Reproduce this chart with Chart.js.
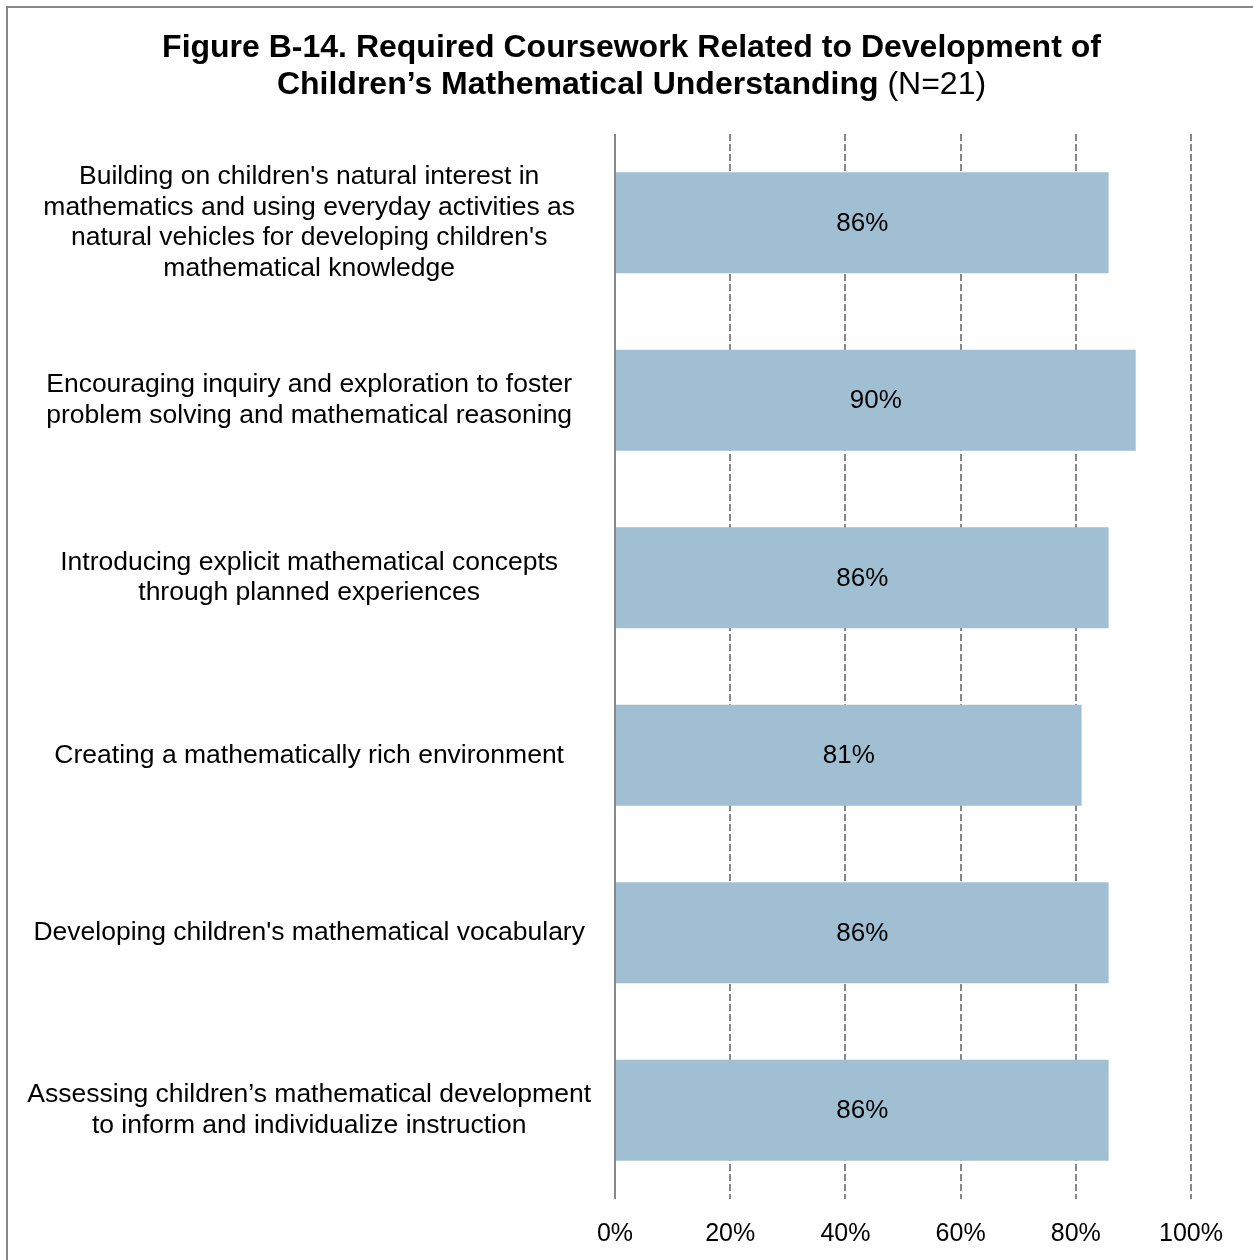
<!DOCTYPE html>
<html>
<head>
<meta charset="utf-8">
<script src="https://cdn.jsdelivr.net/npm/chart.js@4.4.1/dist/chart.umd.min.js"></script>
<style>
  body { margin: 0; background: #fff; }
  #frame { position: absolute; left: 6px; top: 6px; width: 1300px; height: 1300px; border: 2px solid #888; }
  #title { position: absolute; left: 8px; width: 1247px; top: 28px; text-align: center;
           font-family: "Liberation Sans", Arial, sans-serif; font-size: 32px; line-height: 37px; color: #000; }
  #title b { font-weight: bold; }
  #chart { position: absolute; left: 0; top: 0; }
</style>
</head>
<body>
<div id="frame"></div>
<canvas id="chart" width="1253" height="1260"></canvas>
<div id="title"><b>Figure B-14. Required Coursework Related to Development of</b><br><b>Children’s Mathematical Understanding</b> (N=21)</div>
<script>
// categories (multi-line labels)
const categories = [
  ["Building on children's natural interest in", "mathematics and using everyday activities as", "natural vehicles for developing children's", "mathematical knowledge"],
  ["Encouraging inquiry and exploration to foster", "problem solving and mathematical reasoning"],
  ["Introducing explicit mathematical concepts", "through planned experiences"],
  ["Creating a mathematically rich environment"],
  ["Developing children's mathematical vocabulary"],
  ["Assessing children’s mathematical development", "to inform and individualize instruction"]
];
// percent of programs (N=21)
const percents = [85.7, 90.4, 85.7, 81.0, 85.7, 85.7];
const xTicks = [0, 20, 40, 60, 80, 100];

const FONT = "'Liberation Sans', Arial, sans-serif";

// draws the value label in the middle of each bar
const barLabels = {
  id: 'barLabels',
  afterDatasetsDraw(chart) {
    const ctx = chart.ctx;
    const meta = chart.getDatasetMeta(0);
    ctx.save();
    ctx.font = '26px ' + FONT;
    ctx.fillStyle = '#000';
    ctx.textAlign = 'center';
    ctx.textBaseline = 'middle';
    meta.data.forEach((bar, i) => {
      const { x, y, base } = bar.getProps(['x', 'y', 'base'], true);
      ctx.fillText(Math.round(percents[i]) + '%', (x + base) / 2, y + 1);
    });
    ctx.restore();
  }
};

new Chart(document.getElementById('chart').getContext('2d'), {
  type: 'bar',
  data: {
    labels: categories,
    datasets: [{
      data: percents,
      backgroundColor: '#A0BFD3',
      borderWidth: 0,
      categoryPercentage: 1,
      barPercentage: 0.57
    }]
  },
  options: {
    indexAxis: 'y',
    responsive: false,
    animation: false,
    layout: { padding: { top: 134, right: 62, bottom: 11, left: 0 } },
    scales: {
      x: {
        min: 0,
        max: 100,
        afterBuildTicks: (scale) => { scale.ticks = xTicks.map(v => ({ value: v })); },
        afterFit: (scale) => { scale.height = 50; },
        ticks: {
          padding: 20,
          color: '#000',
          font: { family: FONT, size: 25 },
          callback: (v) => v + '%'
        },
        grid: {
          drawTicks: false,
          color: '#888',
          lineWidth: 2
        },
        border: {
          display: false,
          dash: (c) => c.index === 0 ? [] : [7, 3]
        }
      },
      y: {
        afterFit: (scale) => {
          scale.width = 615;
          scale.paddingTop = 0;
          scale.paddingBottom = 0;
        },
        ticks: {
          padding: 24,
          crossAlign: 'center',
          color: '#000',
          font: { family: FONT, size: 26.5, lineHeight: 1.16 }
        },
        grid: { display: false, drawTicks: false },
        border: { display: false }
      }
    },
    plugins: {
      legend: { display: false },
      tooltip: { enabled: false }
    }
  },
  plugins: [barLabels]
});
</script>
</body>
</html>
